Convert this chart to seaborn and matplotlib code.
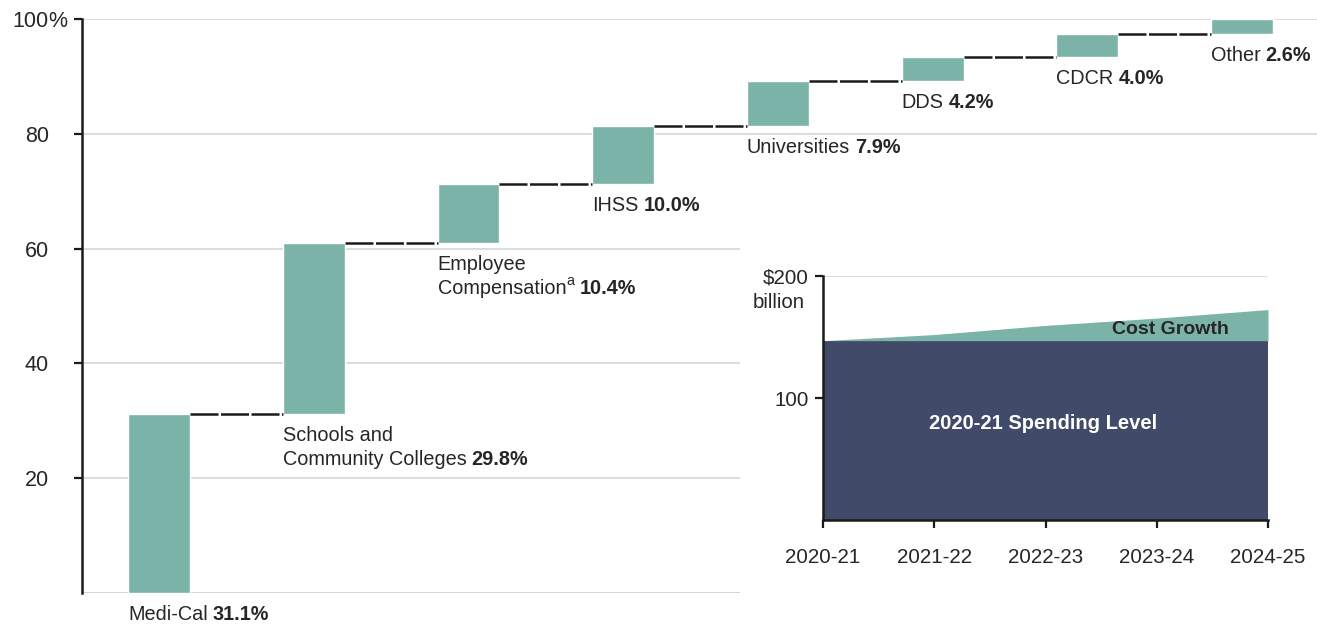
import numpy as np
import pandas as pd
import matplotlib
matplotlib.use("Agg")
import matplotlib.pyplot as plt
import seaborn as sns
from matplotlib.patches import Rectangle

# Data
programs = ["Medi-Cal", "Schools and\nCommunity Colleges",
            "Employee\nCompensation", "IHSS",
            "Universities", "DDS", "CDCR", "Other"]
footnotes = ["", "", "a", "", "", "", "", ""]
shares = [31.1, 29.8, 10.4, 10.0, 7.9, 4.2, 4.0, 2.6]

years = ["2020-21", "2021-22", "2022-23", "2023-24", "2024-25"]
base_level = [147, 147, 147, 147, 147]
total_spending = [147, 152, 159.5, 165.5, 172.5]

TEAL = "#7BB3A8"
NAVY = "#414A69"
GRID = "#d6d6d6"
TXT = "#262626"
FS = 14.3

sns.set_style("white")
plt.rcParams["font.family"] = ["Liberation Sans", "DejaVu Sans"]

fig = plt.figure(figsize=(13.17, 6.24), dpi=100)

# Main waterfall
ax = fig.add_axes([82 / 1317, 31 / 624, 1235 / 1317, 574 / 624])
df = pd.DataFrame({"program": programs, "note": footnotes, "share": shares})
df["end"] = df["share"].cumsum()
df["start"] = df["end"] - df["share"]

bar_w = 0.4
sns.barplot(data=df, x="program", y="share", bottom=df["start"].values,
            color=TEAL, width=bar_w, saturation=1, ax=ax, zorder=3)

# connectors
for i in range(len(df) - 1):
    ax.hlines(df["end"][i], i + bar_w / 2, i + 1 - bar_w / 2, color="#1a1a1a",
              lw=1.8, linestyles=(0, (11.2, 1.0)), zorder=4)

ax.set_xlim(-0.498, 7.485)
ax.set_ylim(0, 100)
ax.set_yticks([20, 40, 60, 80, 100])
ax.set_yticklabels(["20", "40", "60", "80", "100"])
ax.yaxis.grid(True, color=GRID, lw=1.2, zorder=0)
ax.axhline(0, color=GRID, lw=1.5, zorder=1)
ax.set_axisbelow(True)
ax.set_xticks([])
ax.set_xlabel("")
ax.set_ylabel("")
for s in ["top", "right", "bottom"]:
    ax.spines[s].set_visible(False)
ax.spines["left"].set_linewidth(1.8)
ax.spines["left"].set_color("#1a1a1a")
ax.tick_params(axis="y", direction="out", length=6, width=1.6, color="#1a1a1a",
               pad=18, labelsize=15.5, labelcolor=TXT, left=True)
ax.annotate("%", xy=(0, 100), xycoords=("axes fraction", "data"),
            xytext=(-24.5, 0), textcoords="offset points", ha="left",
            va="center_baseline", fontsize=15.5, color=TXT)

# labels below each bar
for i, row in df.iterrows():
    t1 = ax.annotate(row["program"], xy=(i - bar_w / 2, row["start"]),
                     xytext=(0, -8.5), textcoords="offset points", ha="left",
                     va="top", fontsize=FS, color=TXT, linespacing=1.33,
                     annotation_clip=False)
    anchor = t1
    if row["note"]:
        anchor = ax.annotate(row["note"], xy=(1, 0), xycoords=t1,
                             xytext=(0.5, 7), textcoords="offset points",
                             ha="left", va="bottom", fontsize=FS * 0.72,
                             color=TXT, annotation_clip=False)
    ax.annotate(f"{row['share']:.1f}%", xy=(1, 0), xycoords=(anchor, t1),
                xytext=(3.5, 0), textcoords="offset points", ha="left",
                va="bottom", fontsize=FS, color=TXT, fontweight="bold",
                annotation_clip=False)

# white background behind inset
fig.patches.append(Rectangle((740 / 1317, 0), 1 - 740 / 1317, 388 / 624,
                             transform=fig.transFigure, facecolor="white",
                             edgecolor="none", zorder=1))

# Inset area chart
ins = fig.add_axes([823 / 1317, 104 / 624, 445 / 1317, 244 / 624], zorder=2)
ins.patch.set_alpha(0)
xs = np.arange(len(years))
ins.fill_between(xs, 0, base_level, color=NAVY, lw=0, zorder=2)
ins.fill_between(xs, base_level, total_spending, color=TEAL, lw=0, zorder=2)
ins.set_xlim(0, len(years) - 1)
ins.set_ylim(0, 200)
ins.set_xticks(xs)
ins.set_xticklabels(years)
ins.set_yticks([100, 200])
ins.set_yticklabels(["100", "\\$200"])
ins.axhline(200, color=GRID, lw=1.2, zorder=1)
for s in ["top", "right"]:
    ins.spines[s].set_visible(False)
for s in ["left", "bottom"]:
    ins.spines[s].set_linewidth(1.8)
    ins.spines[s].set_color("#1a1a1a")
    ins.spines[s].set_zorder(3)
ins.tick_params(axis="both", direction="out", length=6, width=1.6,
                color="#1a1a1a", labelsize=14.8, labelcolor=TXT,
                left=True, bottom=True)
ins.tick_params(axis="x", pad=14)
ins.tick_params(axis="y", pad=4)
ins.annotate("billion", xy=(0, 200), xycoords=("axes fraction", "data"),
             xytext=(-13, -19), textcoords="offset points", ha="right",
             va="center", fontsize=14.8, color=TXT)
ins.text(3.12, 156.5, "Cost Growth", ha="center", va="center",
         fontsize=14, fontweight="bold", color=TXT, zorder=4)
ins.text(1.98, 79, "2020-21 Spending Level", ha="center", va="center",
         fontsize=14.5, fontweight="bold", color="white", zorder=4)

fig.savefig("out.png", dpi=100)
